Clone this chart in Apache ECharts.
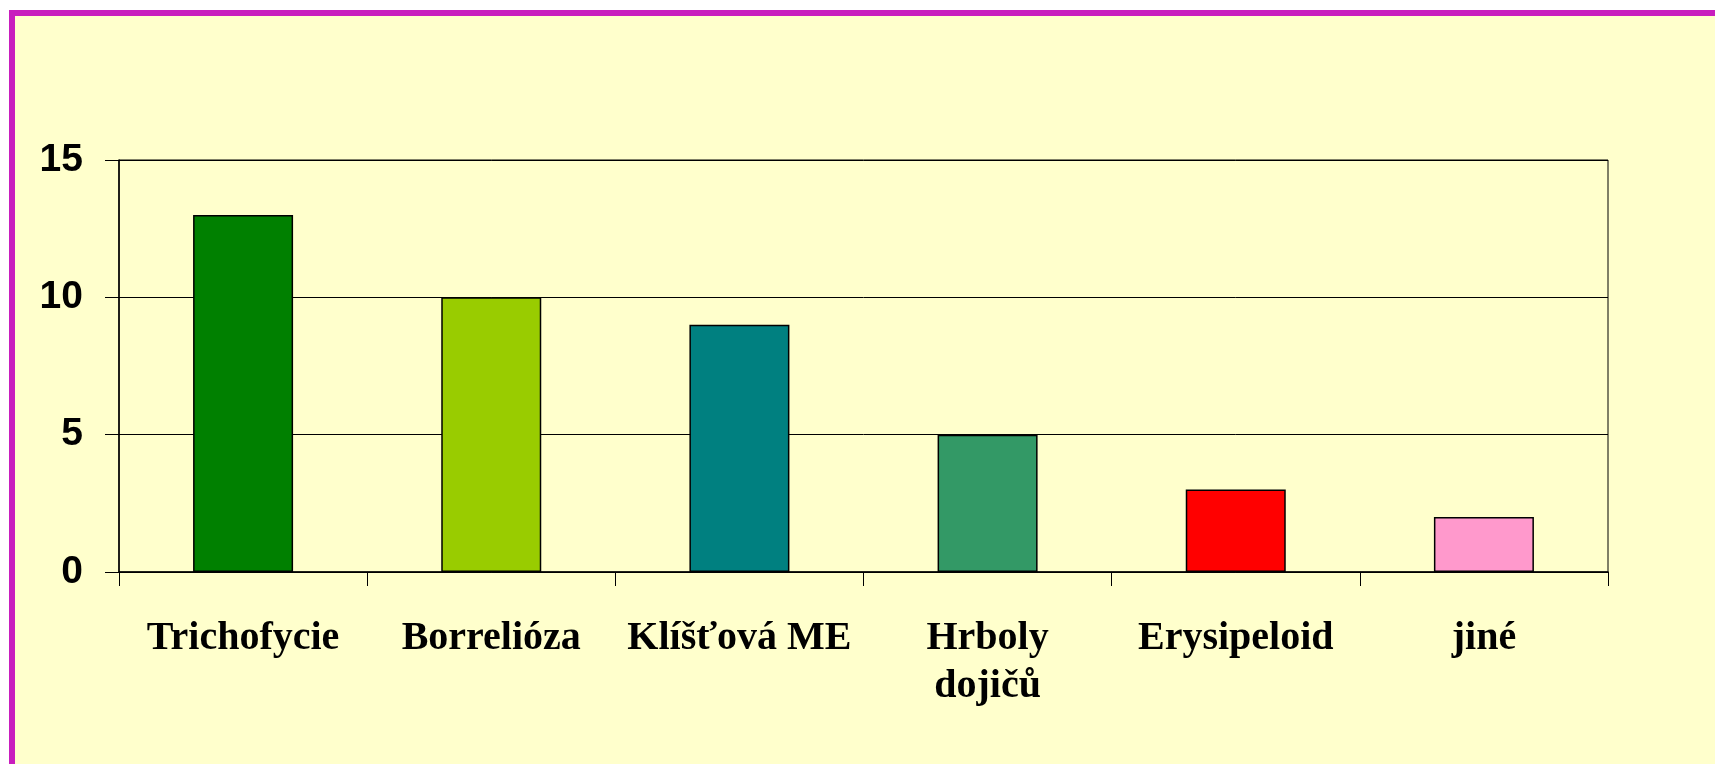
<!DOCTYPE html>
<html>
<head>
<meta charset="utf-8">
<script src="https://cdn.jsdelivr.net/npm/echarts@6/dist/echarts.min.js"></script>
<style>
    html, body { margin: 0; padding: 0; background: #ffffff; overflow: hidden; }
    #frame {
        position: absolute; left: 9px; top: 10px;
        width: 1720px; height: 770px;
        border: 6px solid #c81ebe; background: #ffffcc;
    }
    #chart { position: absolute; left: 0; top: 0; width: 1715px; height: 764px; }
</style>
</head>
<body>
<div id="frame"></div>
<div id="chart"></div>
<script>
// kategorie a hodnoty
const categories = ["Trichofycie", "Borrelióza", "Klíšťová ME", "Hrboly\ndojičů", "Erysipeloid", "jiné"];
const values = [13, 10, 9, 5, 3, 2];
const barColors = ["#008000", "#99cc00", "#008080", "#339966", "#ff0000", "#ff99cc"];
const yTicks = [0, 5, 10, 15];

const chart = echarts.init(document.getElementById("chart"));
chart.setOption({
    backgroundColor: "transparent",
    animation: false,
    grid: {
        left: 119, right: 107, top: 160, bottom: 192,
        show: true, borderColor: "#000", borderWidth: 1
    },
    xAxis: {
        type: "category",
        data: categories,
        boundaryGap: true,
        axisLine: { lineStyle: { color: "#000", width: 1.5 } },
        axisTick: { show: true, length: 14, lineStyle: { color: "#000" } },
        axisLabel: {
            color: "#000",
            fontFamily: "Liberation Serif, Times New Roman, serif",
            fontWeight: "bold",
            fontSize: 40,
            lineHeight: 48,
            margin: 43,
            interval: 0
        }
    },
    yAxis: {
        type: "value",
        min: yTicks[0],
        max: yTicks[yTicks.length - 1],
        interval: 5,
        axisLine: { show: true, lineStyle: { color: "#000", width: 1.5 } },
        axisTick: { show: true, length: 14, lineStyle: { color: "#000" } },
        splitLine: { show: true, lineStyle: { color: "#000", width: 1 } },
        axisLabel: {
            color: "#000",
            fontFamily: "Liberation Sans, Arial, sans-serif",
            fontWeight: "bold",
            fontSize: 39,
            margin: 36
        }
    },
    series: [{
        type: "bar",
        barWidth: 100,
        data: values.map((v, i) => ({
            value: v,
            itemStyle: { color: barColors[i] }
        })),
        itemStyle: { borderColor: "#000", borderWidth: 1.5 }
    }]
});
</script>
</body>
</html>
